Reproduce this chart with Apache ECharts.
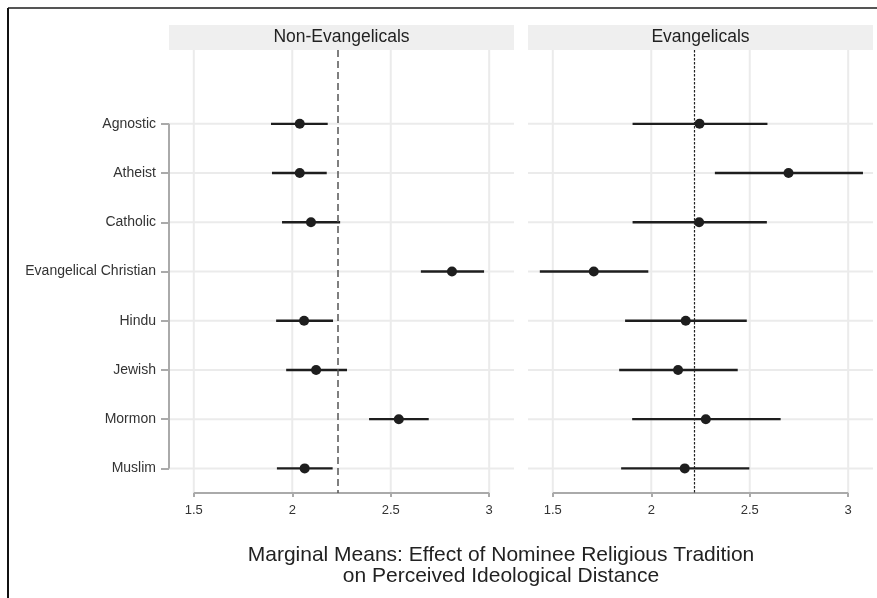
<!DOCTYPE html>
<html><head><meta charset="utf-8">
<script src="https://cdn.jsdelivr.net/npm/echarts@6/dist/echarts.min.js"></script>
<style>html,body{margin:0;padding:0;background:#fff}#c{width:877px;height:598px}</style>
</head><body><div id="c"></div>
<script>
const categories = ['Agnostic','Atheist','Catholic','Evangelical Christian','Hindu','Jewish','Mormon','Muslim'];
const panelNames = ['Non-Evangelicals','Evangelicals'];
const nonEvMean = [2.038, 2.038, 2.095, 2.811, 2.060, 2.121, 2.541, 2.063];
const nonEvLow  = [1.892, 1.897, 1.948, 2.653, 1.918, 1.969, 2.390, 1.922];
const nonEvHigh = [2.180, 2.175, 2.243, 2.974, 2.207, 2.278, 2.693, 2.205];
const evMean = [2.245, 2.697, 2.243, 1.708, 2.175, 2.136, 2.277, 2.170];
const evLow  = [1.905, 2.323, 1.905, 1.434, 1.867, 1.837, 1.903, 1.847];
const evHigh = [2.590, 3.075, 2.587, 1.985, 2.485, 2.439, 2.657, 2.498];
const refLines = [2.226, 2.218];
const xTicks = [1.5, 2, 2.5, 3];
const titleText = 'Marginal Means: Effect of Nominee Religious Tradition\non Perceived Ideological Distance';

const FONT = '"Liberation Sans", Arial, sans-serif';
const X_MIN = 1.374, X_MAX = 3.126;
const Y_MIN = -0.5, Y_MAX = 8.5;
const rowIdx = categories.map((c, i) => i + 1);

const grids = [
  {left: 169, top: 50, width: 345, height: 443},
  {left: 528, top: 50, width: 345, height: 443}
];

const chart = echarts.init(document.getElementById('c'), null, {renderer: 'canvas'});

const xAxes = grids.map((g, i) => ({
  type: 'value', gridIndex: i, min: X_MIN, max: X_MAX, position: 'bottom',
  axisLine: {show: false, onZero: false},
  axisTick: {show: true, customValues: xTicks, length: 4, lineStyle: {color: '#aaaaaa', width: 2}},
  axisLabel: {customValues: xTicks, color: '#333', fontSize: 13, fontFamily: FONT, margin: 11,
              formatter: v => String(v)},
  splitLine: {show: false}
}));
const yAxes = grids.map((g, i) => ({
  type: 'value', gridIndex: i, min: Y_MIN, max: Y_MAX, inverse: true, position: 'left',
  axisLine: {show: false, onZero: false},
  axisTick: {show: i === 0, customValues: rowIdx, length: 8, lineStyle: {color: '#aaaaaa', width: 2}},
  axisLabel: {show: i === 0, customValues: rowIdx, color: '#333', fontSize: 14, fontFamily: FONT, margin: 13,
              formatter: v => categories[Math.round(v) - 1] || ''},
  splitLine: {show: false}
}));

const panelData = [
  {mean: nonEvMean, low: nonEvLow, high: nonEvHigh},
  {mean: evMean, low: evLow, high: evHigh}
];

const GRID_COLOR = '#ebebeb';
const series = [];
panelData.forEach((p, i) => {
  // grid lines
  series.push({
    type: 'custom', xAxisIndex: i, yAxisIndex: i, z: 1, silent: true, clip: false,
    data: xTicks.map(v => [v]),
    renderItem: (params, api) => {
      const cs = params.coordSys;
      const x = api.coord([api.value(0), 1])[0];
      return {type: 'line', shape: {x1: x, y1: cs.y, x2: x, y2: cs.y + cs.height},
              style: {stroke: GRID_COLOR, lineWidth: 2}};
    }
  });
  series.push({
    type: 'custom', xAxisIndex: i, yAxisIndex: i, z: 1, silent: true, clip: false,
    data: rowIdx.map(v => [v]),
    renderItem: (params, api) => {
      const cs = params.coordSys;
      const y = api.coord([2, api.value(0)])[1];
      return {type: 'line', shape: {x1: cs.x, y1: y, x2: cs.x + cs.width, y2: y},
              style: {stroke: GRID_COLOR, lineWidth: 2}};
    }
  });
  // axis brackets
  if (i === 0) {
    series.push({type: 'line', xAxisIndex: i, yAxisIndex: i, clip: false, silent: true, symbol: 'none',
      lineStyle: {color: '#aaaaaa', width: 2}, data: [[X_MIN, rowIdx[0]], [X_MIN, rowIdx[rowIdx.length - 1]]], z: 3});
  }
  series.push({type: 'line', xAxisIndex: i, yAxisIndex: i, clip: false, silent: true, symbol: 'none',
    lineStyle: {color: '#aaaaaa', width: 2}, data: [[xTicks[0], Y_MAX], [xTicks[xTicks.length - 1], Y_MAX]], z: 3});
  // error bars
  series.push({
    type: 'custom', xAxisIndex: i, yAxisIndex: i, z: 4,
    data: categories.map((c, k) => [p.low[k], p.high[k], k + 1]),
    renderItem: (params, api) => {
      const a = api.coord([api.value(0), api.value(2)]);
      const b = api.coord([api.value(1), api.value(2)]);
      return {type: 'line', shape: {x1: a[0], y1: a[1], x2: b[0], y2: b[1]},
              style: {stroke: '#1e1e1e', lineWidth: 2.4}};
    }
  });
  // points + reference line
  series.push({
    type: 'scatter', xAxisIndex: i, yAxisIndex: i, z: 5, symbolSize: 10,
    itemStyle: {color: '#1e1e1e', opacity: 1},
    data: categories.map((c, k) => [p.mean[k], k + 1]),
    markLine: {
      silent: true, symbol: 'none', label: {show: false},
      lineStyle: i === 0 ? {color: '#555', width: 1.5, type: [7, 4]} : {color: '#222', width: 1.2, type: [2.5, 1.5]},
      data: [{xAxis: refLines[i]}]
    }
  });
});

const graphics = [
  {type: 'line', shape: {x1: 8, y1: 8, x2: 877, y2: 8}, style: {stroke: '#555', lineWidth: 2}},
  {type: 'line', shape: {x1: 8, y1: 8, x2: 8, y2: 598}, style: {stroke: '#111', lineWidth: 2}}
];
grids.forEach((g, i) => {
  graphics.push({type: 'rect', shape: {x: g.left, y: 25, width: g.width, height: 25}, style: {fill: '#efefef'}, z: 1});
  graphics.push({type: 'text', x: g.left + g.width / 2, y: 37.5,
    style: {text: panelNames[i], fill: '#222', font: '17.5px ' + FONT, textAlign: 'center', textVerticalAlign: 'middle'}, z: 2});
});

chart.setOption({
  backgroundColor: '#fff',
  animation: false,
  textStyle: {fontFamily: FONT},
  title: {text: titleText, left: 496, top: 540, textAlign: 'center',
          textStyle: {fontSize: 21, lineHeight: 21, fontWeight: 'normal', color: '#222', fontFamily: FONT}},
  grid: grids,
  xAxis: xAxes,
  yAxis: yAxes,
  series: series,
  graphic: graphics
});
</script></body></html>
